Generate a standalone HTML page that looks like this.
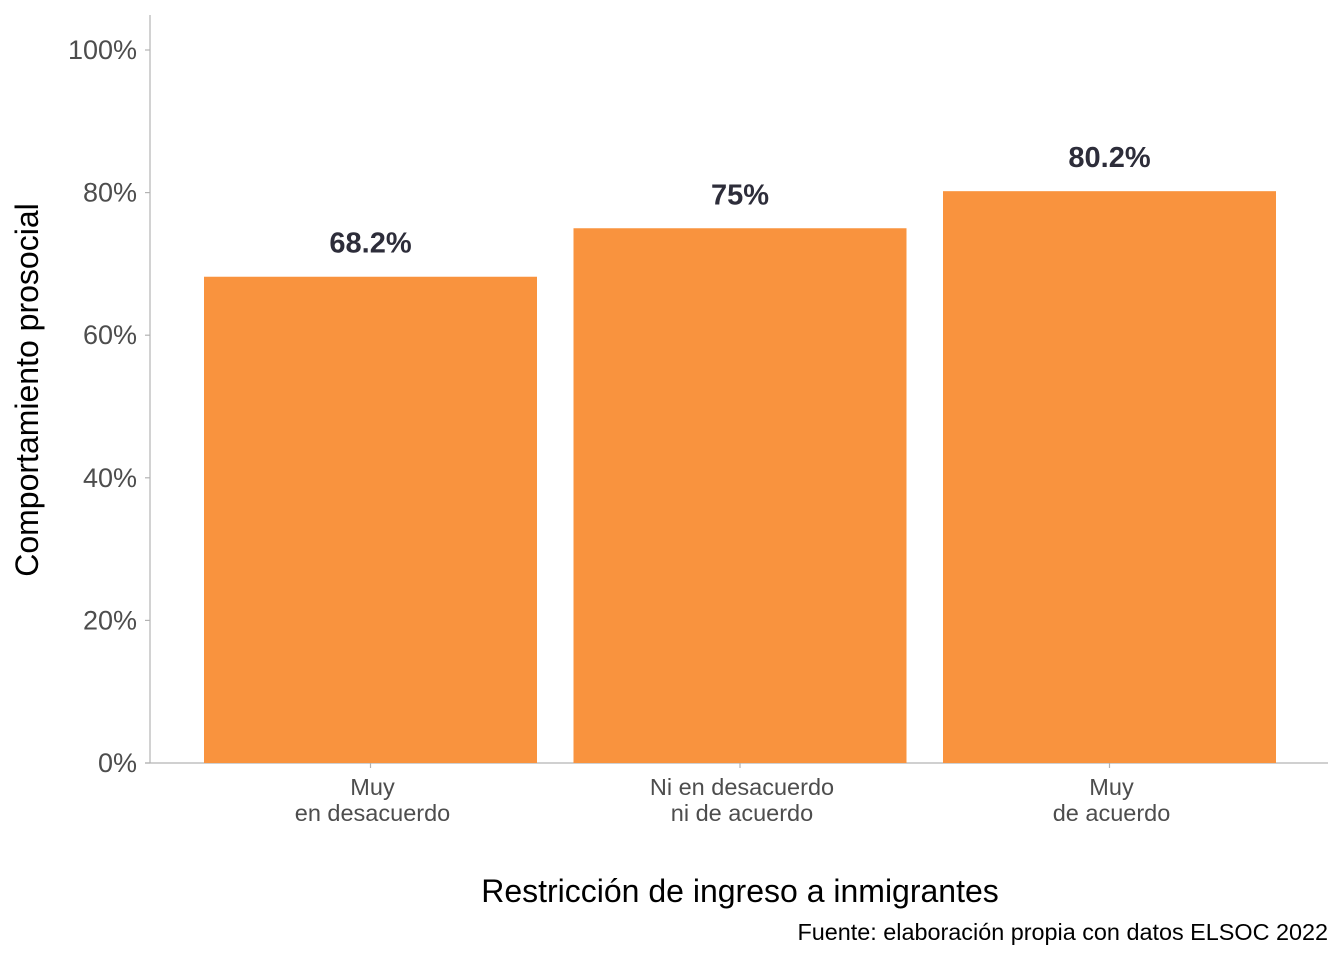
<!DOCTYPE html>
<html><head><meta charset="utf-8"><style>
body{margin:0;background:#fff;font-family:"Liberation Sans",sans-serif}
</style></head><body>
<svg id="chart" width="1344" height="960" xmlns="http://www.w3.org/2000/svg" font-family="Liberation Sans, sans-serif"></svg>
<script>
const categories=[["Muy","en desacuerdo"],["Ni en desacuerdo","ni de acuerdo"],["Muy","de acuerdo"]];
const values=[68.2,75,80.2];
const valueLabels=["68.2%","75%","80.2%"];
const yTicks=[0,20,40,60,80,100];
const svg=document.getElementById('chart');
const NS="http://www.w3.org/2000/svg";
const y0=763,y100=50,xl=150,xr=1328;
const yS=v=>y0-(y0-y100)*v/100;
const xC=i=>370.5+i*369.5;
const bw=333;
function el(t,a,txt){const e=document.createElementNS(NS,t);for(const k in a)e.setAttribute(k,a[k]);if(txt!==undefined)e.textContent=txt;svg.appendChild(e);return e;}
let e;
e=el('line',{x1:xl,x2:xl,y1:15,y2:y0,stroke:'#b3b3b3','stroke-width':1.2});

e=el('line',{x1:145,x2:xr,y1:y0,y2:y0,stroke:'#b3b3b3','stroke-width':1.2});

yTicks.forEach(t=>{
 e=el('line',{x1:145,x2:xl,y1:yS(t),y2:yS(t),stroke:'#b3b3b3','stroke-width':1.2});
 
 e=el('text',{x:137,y:yS(t)+9,'text-anchor':'end','font-size':27,fill:'#4d4d4d'},t+'%');
 
});
values.forEach((v,i)=>{
 e=el('rect',{x:xC(i)-bw/2,y:yS(v),width:bw,height:y0-yS(v),fill:'#f9933e'});
 
 e=el('text',{x:xC(i),y:yS(v)-24,'text-anchor':'middle','font-size':29,'font-weight':'bold',fill:'#2d2d3a'},valueLabels[i]);
 
 e=el('line',{x1:xC(i),x2:xC(i),y1:y0,y2:y0+5,stroke:'#b3b3b3','stroke-width':1.2});
 
 categories[i].forEach((ln,j)=>{
  e=el('text',{x:xC(i)+2,y:795+j*26,'text-anchor':'middle','font-size':23.5,fill:'#4d4d4d'},ln);
  
 });
});
e=el('text',{x:740,y:902,'text-anchor':'middle','font-size':32,fill:'#000'},'Restricción de ingreso a inmigrantes');

e=el('text',{x:0,y:0,transform:'translate(38,390) rotate(-90)','text-anchor':'middle','font-size':32,fill:'#000'},'Comportamiento prosocial');

e=el('text',{x:1328,y:940,'text-anchor':'end','font-size':23.4,fill:'#000'},'Fuente: elaboración propia con datos ELSOC 2022');

</script>
</body></html>
